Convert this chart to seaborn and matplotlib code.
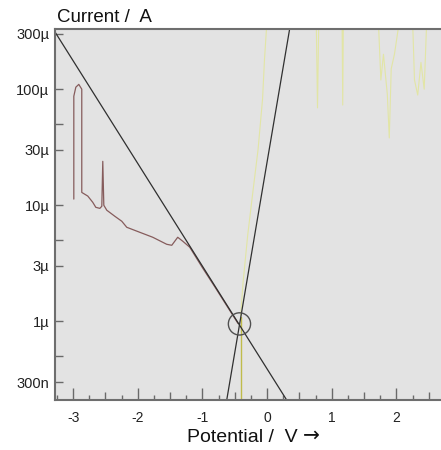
import matplotlib
matplotlib.use("Agg")
import matplotlib.pyplot as plt
import matplotlib.ticker as mticker
import pandas as pd
import seaborn as sns

# --- measured cathodic branch (potential in V, current in A) ---
cath_V = [-2.989, -2.989, -2.958, -2.912, -2.866, -2.866, -2.773, -2.696, -2.649,
          -2.587, -2.556, -2.541, -2.525, -2.479, -2.355, -2.247, -2.170, -1.969,
          -1.768, -1.552, -1.474, -1.382, -1.304, -1.196, -1.000, -0.800, -0.600,
          -0.450]
cath_I = [1.13e-5, 8.7e-5, 1.04e-4, 1.10e-4, 1.0e-4, 1.29e-5, 1.20e-5, 1.06e-5, 9.6e-6,
          9.4e-6, 9.8e-6, 2.39e-5, 1.0e-5, 9.06e-6, 8.04e-6, 7.28e-6, 6.46e-6, 5.85e-6,
          5.30e-6, 4.61e-6, 4.52e-6, 5.30e-6, 4.9e-6, 4.35e-6, 2.9e-6, 1.95e-6, 1.3e-6,
          9.6e-7]

# --- measured anodic branch: start at the rest potential ...
anod_start_V = [-0.41, -0.41]
anod_start_I = [2.0e-7, 1.1e-6]
# ... then the rising and high-current part
anod_V = [-0.41, -0.37, -0.30, -0.22, -0.14, -0.07, -0.04, 0.00, 0.76, 0.78,
          0.80, 1.16, 1.17, 1.18, 1.72, 1.76, 1.80, 1.86, 1.89, 1.92, 1.97, 2.05,
          2.25, 2.28, 2.33, 2.38, 2.43, 2.47, 2.70]
anod_I = [1.1e-6, 2.2e-6, 5.5e-6, 1.3e-5, 3.0e-5, 8.2e-5, 1.8e-4, 4.0e-4, 4.0e-4,
          6.9e-5, 4.0e-4, 4.0e-4, 7.3e-5, 4.0e-4, 4.0e-4, 1.2e-4, 2.0e-4, 9.0e-5, 3.8e-5,
          1.5e-4, 2.0e-4, 4.0e-4, 4.0e-4, 1.2e-4, 8.9e-5, 1.7e-4, 1.0e-4, 4.0e-4, 4.0e-4]

# --- Tafel extrapolation lines (end points) ---
tafel_c_V = [-3.283, 0.303]
tafel_c_I = [3.13e-4, 2.1e-7]
tafel_a_V = [-0.624, 0.349]
tafel_a_I = [2.1e-7, 3.3e-4]

# --- corrosion point ---
corr_V = [-0.427]
corr_I = [9.5e-7]

# --- axis ticks ---
x_major = [-3, -2, -1, 0, 1, 2]
x_major_labels = ["-3", "-2", "-1", "0", "1", "2"]
y_major = [3e-7, 1e-6, 3e-6, 1e-5, 3e-5, 1e-4, 3e-4]
y_major_labels = ["300n", "1\u00b5", "3\u00b5", "10\u00b5", "30\u00b5", "100\u00b5", "300\u00b5"]
y_minor = [5e-7, 5e-6, 5e-5]

sns.set_theme(style="white")
plt.rcParams["font.family"] = ["Liberation Sans", "DejaVu Sans"]
plt.rcParams["axes.unicode_minus"] = False

fig = plt.figure(figsize=(4.41, 4.50), dpi=100)
ax = fig.add_axes([55 / 441, 50 / 450, 386 / 441, 371 / 450])
ax.set_facecolor("#e3e3e3")
ax.set_yscale("log")

cath = pd.DataFrame({"V": cath_V, "I": cath_I})
anod0 = pd.DataFrame({"V": anod_start_V, "I": anod_start_I})
anod = pd.DataFrame({"V": anod_V, "I": anod_I})
tc = pd.DataFrame({"V": tafel_c_V, "I": tafel_c_I})
ta = pd.DataFrame({"V": tafel_a_V, "I": tafel_a_I})
corr = pd.DataFrame({"V": corr_V, "I": corr_I})

sns.lineplot(data=anod, x="V", y="I", sort=False, estimator=None, ax=ax,
             color="#e2e85a", linewidth=0.8, alpha=0.45)
sns.lineplot(data=anod0, x="V", y="I", sort=False, estimator=None, ax=ax,
             color="#bdb83a", linewidth=1.0, alpha=0.9)
sns.lineplot(data=cath, x="V", y="I", sort=False, estimator=None, ax=ax,
             color="#865c5c", linewidth=0.9)
sns.lineplot(data=tc, x="V", y="I", sort=False, estimator=None, ax=ax,
             color="#303030", linewidth=0.9)
sns.lineplot(data=ta, x="V", y="I", sort=False, estimator=None, ax=ax,
             color="#303030", linewidth=0.9)
sns.scatterplot(data=corr, x="V", y="I", ax=ax, s=16 ** 2, marker="o",
                facecolors="none", edgecolor="#505050", linewidth=1.0, zorder=5)

ax.set_xlim(-3.28, 2.69)
ax.set_ylim(2.1e-7, 3.3e-4)

# x ticks: labelled integers, half and quarter marks in between
ax.xaxis.set_major_locator(mticker.FixedLocator(x_major))
ax.xaxis.set_major_formatter(mticker.FixedFormatter(x_major_labels))
x_minor = [v / 4 for v in range(-13, 11) if v % 4 != 0]
ax.xaxis.set_minor_locator(mticker.FixedLocator(x_minor))
ax.xaxis.set_minor_formatter(mticker.NullFormatter())

ax.yaxis.set_major_locator(mticker.FixedLocator(y_major))
ax.yaxis.set_major_formatter(mticker.FixedFormatter(y_major_labels))
ax.yaxis.set_minor_locator(mticker.FixedLocator(y_minor))
ax.yaxis.set_minor_formatter(mticker.NullFormatter())

tick_col = "#6a6a6a"
ax.tick_params(axis="x", which="major", direction="in", length=9, width=1.0,
               color=tick_col, labelsize=10, labelcolor="#222222", pad=8,
               bottom=True, top=False)
ax.tick_params(axis="x", which="minor", direction="in", length=3.5, width=1.0,
               color=tick_col, bottom=True, top=False)
ax.tick_params(axis="y", which="both", direction="in", length=5.5, width=1.0,
               color=tick_col, labelsize=10.5, labelcolor="#222222", pad=4,
               left=True, right=False)

# half-volt marks are a little taller than the quarter marks
minor_ticks = ax.xaxis.get_minor_ticks(len(x_minor))
for tk, loc in zip(minor_ticks, x_minor):
    if abs(loc * 2 - round(loc * 2)) < 1e-9:
        tk.tick1line.set_markersize(6)

for side in ("top", "left", "bottom"):
    ax.spines[side].set_color("#6e6e6e")
    ax.spines[side].set_linewidth(1.5)
ax.spines["right"].set_visible(False)

ax.set_xlabel("")
ax.set_ylabel("")

fig.text(57 / 441, 1 - 22 / 450, "Current /  A", fontsize=13.5, color="#111111",
         ha="left", va="baseline")
fig.text(298 / 441, 1 - 442 / 450, "Potential /  V", fontsize=14,
         color="#111111", ha="right", va="baseline")
fig.text(303 / 441, 1 - 441 / 450, "\u2192", fontsize=14.5, family="DejaVu Sans",
         color="#111111", ha="left", va="baseline")

fig.savefig("out.png", dpi=100, facecolor="white")
